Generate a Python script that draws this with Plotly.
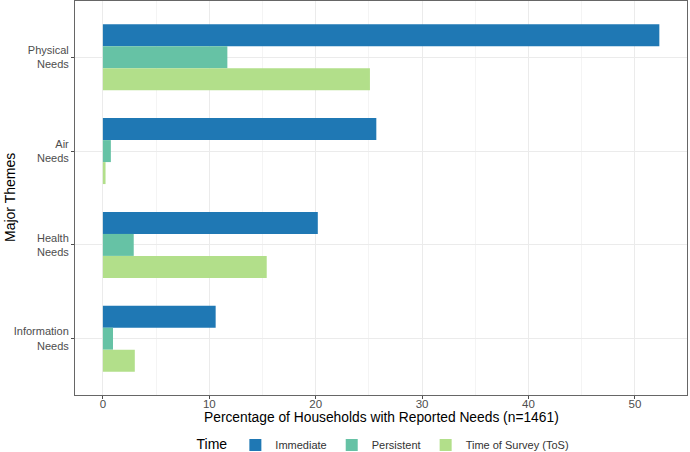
import plotly.graph_objects as go

themes = ["Physical<br>Needs", "Air<br>Needs", "Health<br>Needs", "Information<br>Needs"]
immediate = [52.3, 25.7, 20.2, 10.6]
persistent = [11.7, 0.75, 2.9, 0.95]
tos = [25.1, 0.25, 15.4, 3.0]
series_names = ["Immediate", "Persistent", "Time of Survey (ToS)"]
colors = ["#1f78b4", "#66c2a5", "#b2df8a"]

fig = go.Figure()
for name, vals, col in zip(series_names, [immediate, persistent, tos], colors):
    fig.add_trace(go.Bar(y=themes, x=vals, name=name, orientation="h",
                         marker=dict(color=col, line=dict(width=0))))

fig.update_layout(
    width=690, height=452,
    margin=dict(l=75, r=3, t=1, b=57, autoexpand=False),
    paper_bgcolor="white", plot_bgcolor="white",
    barmode="group", bargap=0.297, bargroupgap=0,
    font=dict(family="Liberation Sans, Arial, sans-serif", color="black"),
    showlegend=True,
    legend=dict(orientation="h", x=0.505, xanchor="center", y=-0.127, yanchor="middle",
                title=dict(text="Time", font=dict(size=14, color="black")),
                font=dict(size=11, color="#333333"), itemwidth=30, traceorder="normal"),
    annotations=[
        dict(text="Percentage of Households with Reported Needs (n=1461)",
             xref="paper", yref="paper", x=0.5, y=0, xanchor="center", yanchor="middle",
             yshift=-22, showarrow=False, font=dict(size=13.8, color="black")),
        dict(text="Major Themes", xref="paper", yref="paper", x=0, y=0.5,
             xanchor="center", yanchor="middle", xshift=-65, textangle=-90,
             showarrow=False, font=dict(size=14, color="black")),
    ],
)
fig.update_xaxes(
    range=[-2.62, 54.9], tick0=0, dtick=10, automargin=False,
    showgrid=True, gridcolor="#ebebeb", gridwidth=1,
    minor=dict(dtick=5, showgrid=True, gridcolor="#f4f4f4", gridwidth=0.6),
    zeroline=False, showline=True, mirror=True, linecolor="#666666", linewidth=1,
    ticks="outside", ticklen=3, tickcolor="#4d4d4d", ticklabelstandoff=-5,
    tickfont=dict(size=11.5, color="#4d4d4d"),
)
fig.update_yaxes(
    categoryorder="array", categoryarray=themes, range=[3.6, -0.6], automargin=False,
    showgrid=True, gridcolor="#ebebeb", gridwidth=1,
    zeroline=False, showline=True, mirror=True, linecolor="#666666", linewidth=1,
    ticks="outside", ticklen=3, tickcolor="#4d4d4d",
    tickfont=dict(size=11, color="#4d4d4d"),
)
fig.write_html("out.html", config={"displayModeBar": False},
               post_script="document.body.style.margin='0px';")
